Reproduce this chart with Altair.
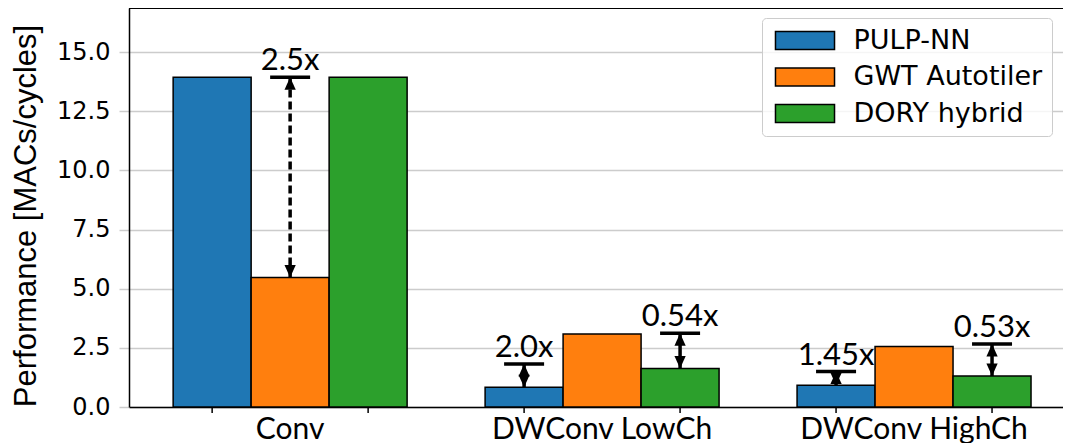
import altair as alt
import pandas as pd

# ---- data ----
groups = ["Conv", "DWConv LowCh", "DWConv HighCh"]
series = ["PULP-NN", "GWT Autotiler", "DORY hybrid"]
pulp_nn = [13.94, 0.83, 0.92]
gwt_autotiler = [5.48, 3.09, 2.56]
dory_hybrid = [13.94, 1.63, 1.31]
colors = ["#1f77b4", "#ff7f0e", "#2ca02c"]
y_ticks = [0.0, 2.5, 5.0, 7.5, 10.0, 12.5, 15.0]

ann_group = ["Conv", "DWConv LowCh", "DWConv LowCh", "DWConv HighCh", "DWConv HighCh"]
ann_series = ["GWT Autotiler", "PULP-NN", "DORY hybrid", "PULP-NN", "DORY hybrid"]
ann_low = [5.48, 0.83, 1.63, 0.92, 1.31]
ann_high = [13.94, 1.82, 3.12, 1.50, 2.66]
ann_text = ["2.5x", "2.0x", "0.54x", "1.45x", "0.53x"]
ann_style = ["dashed", "solid", "solid", "solid", "solid"]

rows = []
for i, g in enumerate(groups):
    for s, vals in zip(series, [pulp_nn, gwt_autotiler, dory_hybrid]):
        rows.append({"group": g, "series": s, "value": vals[i]})
bars_df = pd.DataFrame(rows)
ann_df = pd.DataFrame({
    "group": ann_group, "series": ann_series, "low": ann_low,
    "high": ann_high, "text": ann_text, "style": ann_style,
})

W, H = 934, 399

x_enc = alt.X(
    "group:N", sort=groups,
    scale=alt.Scale(paddingInner=0.25, paddingOuter=0.122, align=0.58),
    axis=alt.Axis(title=None, labelAngle=0, labelFont="Lato", labelFontSize=30,
                  labelColor="black", ticks=False, labelPadding=7, labelLimit=0,
                  domainColor="black", domainWidth=1.5, grid=False),
)
xo_enc = alt.XOffset("series:N", sort=series,
                     scale=alt.Scale(domain=series, paddingInner=0, paddingOuter=0))
y_scale = alt.Scale(domain=[0, 16.87], nice=False)

bars = alt.Chart(bars_df).mark_bar(stroke="black", strokeWidth=1.5).encode(
    x=x_enc,
    xOffset=xo_enc,
    y=alt.Y("value:Q", scale=y_scale,
            axis=alt.Axis(values=y_ticks, format=".1f", grid=True, gridColor="#cccccc",
                          gridWidth=1.5, tickColor="#cccccc", tickSize=10, tickWidth=1.5,
                          labelFont="DejaVu Sans", labelFontSize=24, labelColor="black",
                          labelPadding=9, domainColor="black", domainWidth=1.5,
                          title="Performance [MACs/cycles]", titleFont="Liberation Sans",
                          titleFontSize=31, titleFontWeight="normal", titleColor="black",
                          titleAngle=-90, titleX=-94, titleY=207.5, titleAlign="center",
                          titleBaseline="alphabetic")),
    color=alt.Color("series:N", sort=series,
                    scale=alt.Scale(domain=series, range=colors),
                    legend=alt.Legend(
                        title=None, orient="none", legendX=633, legendY=10,
                        symbolType="M-3.28,-1H3.28V1H-3.28Z", symbolSize=324,
                        symbolStrokeColor="black", symbolStrokeWidth=1.5,
                        symbolOffset=20.5, labelOffset=35, labelLimit=0,
                        labelFont="DejaVu Sans", labelFontSize=27, labelColor="black",
                        rowPadding=8.5, padding=9, strokeColor="#cccccc",
                        cornerRadius=4, fillColor="rgba(255,255,255,0.8)")),
)

xticks = alt.Chart(bars_df).transform_filter(
    alt.datum.series != "GWT Autotiler"
).mark_rule(color="black", strokeWidth=1.5).encode(
    x=x_enc, xOffset=xo_enc, y=alt.value(H), y2=alt.value(H + 6)
)

stems = alt.Chart(ann_df).mark_rule(color="black", strokeWidth=3.5).encode(
    x=x_enc, xOffset=xo_enc,
    y=alt.Y("low:Q", scale=y_scale), y2="high:Q",
    strokeDash=alt.StrokeDash("style:N", scale=alt.Scale(domain=["dashed", "solid"],
                                                         range=[[8, 4], [1, 0]]),
                              legend=None),
)

caps = alt.Chart(ann_df).mark_tick(color="black", thickness=3.5, size=40, opacity=1).encode(
    x=x_enc, xOffset=xo_enc, y=alt.Y("high:Q", scale=y_scale)
)

head_up = alt.Chart(ann_df).mark_point(
    shape="M0,0L0.45,1L-0.45,1Z", size=625, filled=True, color="black",
    opacity=1, strokeWidth=0
).encode(x=x_enc, xOffset=xo_enc, y=alt.Y("high:Q", scale=y_scale))

head_down = alt.Chart(ann_df).mark_point(
    shape="M0,0L0.45,-1L-0.45,-1Z", size=625, filled=True, color="black",
    opacity=1, strokeWidth=0
).encode(x=x_enc, xOffset=xo_enc, y=alt.Y("low:Q", scale=y_scale))

labels = alt.Chart(ann_df).mark_text(
    font="Lato", fontSize=31, color="black", baseline="alphabetic", dy=-7
).encode(x=x_enc, xOffset=xo_enc, y=alt.Y("high:Q", scale=y_scale), text="text:N")

top_frame = alt.Chart(bars_df).mark_rule(color="black", strokeWidth=1.5).encode(
    x=alt.value(0), x2=alt.value(W), y=alt.value(0)
)

chart = alt.layer(bars, xticks, stems, caps, head_up, head_down, labels, top_frame).properties(
    width=W, height=H,
    autosize=alt.AutoSizeParams(type="none"),
    padding={"left": 121, "top": 0, "right": 0, "bottom": 36},
).configure_view(stroke=None)

chart.save("out.html", embed_options={"renderer": "svg", "actions": False})
